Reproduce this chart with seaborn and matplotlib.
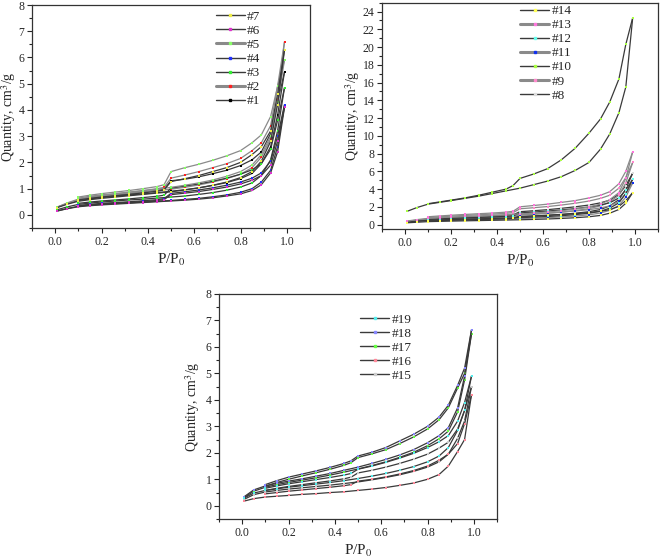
import pandas as pd
import seaborn as sns
import matplotlib.pyplot as plt
from matplotlib.lines import Line2D
from matplotlib.ticker import MultipleLocator

# relative pressure points, adsorption (up) and desorption (down) branches
p_ads = [0.01, 0.05, 0.1, 0.15, 0.2, 0.26, 0.32, 0.38, 0.44, 0.5,
         0.56, 0.62, 0.68, 0.74, 0.8, 0.85, 0.89, 0.93, 0.96, 0.99]
p_des = [0.99, 0.96, 0.93, 0.89, 0.85, 0.8, 0.74, 0.68, 0.62, 0.56,
         0.5, 0.47, 0.44, 0.38, 0.32, 0.26, 0.2, 0.15, 0.1]

# quantity adsorbed, cm3/g
ads = {
    '#1': [0.3, 0.42, 0.55, 0.61, 0.66, 0.71, 0.76, 0.8, 0.85, 0.9, 0.96, 1.03, 1.12, 1.23, 1.38, 1.58, 1.95, 2.6, 3.8, 5.45],
    '#2': [0.3, 0.43, 0.58, 0.65, 0.71, 0.77, 0.82, 0.87, 0.92, 0.98, 1.05, 1.14, 1.25, 1.38, 1.55, 1.8, 2.2, 2.9, 4.4, 6.6],
    '#3': [0.2, 0.3, 0.4, 0.45, 0.49, 0.53, 0.57, 0.6, 0.64, 0.68, 0.72, 0.78, 0.85, 0.94, 1.06, 1.22, 1.5, 2.1, 3.2, 4.85],
    '#4': [0.15, 0.24, 0.33, 0.37, 0.4, 0.43, 0.46, 0.49, 0.52, 0.55, 0.59, 0.63, 0.69, 0.76, 0.86, 1.0, 1.25, 1.7, 2.6, 4.2],
    '#5': [0.3, 0.45, 0.6, 0.68, 0.74, 0.8, 0.86, 0.92, 0.98, 1.05, 1.13, 1.22, 1.33, 1.47, 1.65, 1.9, 2.3, 3.0, 4.3, 5.9],
    '#6': [0.15, 0.23, 0.31, 0.35, 0.38, 0.41, 0.44, 0.47, 0.5, 0.53, 0.56, 0.6, 0.65, 0.72, 0.8, 0.93, 1.15, 1.6, 2.4, 4.1],
    '#7': [0.28, 0.4, 0.52, 0.58, 0.63, 0.68, 0.73, 0.78, 0.83, 0.88, 0.95, 1.03, 1.13, 1.25, 1.42, 1.65, 2.05, 2.8, 4.2, 6.3],
    '#8': [0.3, 0.42, 0.54, 0.6, 0.65, 0.7, 0.75, 0.8, 0.85, 0.9, 0.97, 1.05, 1.15, 1.28, 1.45, 1.7, 2.1, 2.8, 4.0, 5.8],
    '#9': [0.35, 0.5, 0.62, 0.7, 0.76, 0.82, 0.88, 0.94, 1.0, 1.07, 1.16, 1.27, 1.4, 1.57, 1.8, 2.1, 2.55, 3.3, 4.7, 7.0],
    '#10': [1.5, 1.9, 2.3, 2.5, 2.7, 2.95, 3.2, 3.5, 3.8, 4.1, 4.5, 4.9, 5.4, 6.1, 7.0, 8.5, 10.2, 12.6, 15.5, 23.3],
    '#11': [0.25, 0.33, 0.42, 0.46, 0.5, 0.53, 0.56, 0.6, 0.63, 0.67, 0.72, 0.78, 0.86, 0.96, 1.1, 1.3, 1.6, 2.15, 3.1, 4.7],
    '#12': [0.28, 0.38, 0.48, 0.53, 0.57, 0.61, 0.65, 0.69, 0.73, 0.78, 0.84, 0.91, 1.0, 1.12, 1.28, 1.5, 1.85, 2.45, 3.5, 5.1],
    '#13': [0.4, 0.55, 0.7, 0.78, 0.85, 0.92, 0.98, 1.05, 1.12, 1.2, 1.3, 1.42, 1.56, 1.74, 1.98, 2.3, 2.8, 3.6, 5.2, 8.2],
    '#14': [0.2, 0.26, 0.33, 0.36, 0.39, 0.42, 0.45, 0.48, 0.51, 0.54, 0.58, 0.63, 0.69, 0.77, 0.88, 1.03, 1.28, 1.7, 2.4, 3.6],
    '#15': [0.25, 0.42, 0.52, 0.58, 0.63, 0.68, 0.73, 0.78, 0.84, 0.9, 0.98, 1.07, 1.17, 1.3, 1.46, 1.66, 1.95, 2.55, 3.2, 4.5],
    '#16': [0.18, 0.27, 0.33, 0.36, 0.39, 0.43, 0.46, 0.5, 0.53, 0.58, 0.63, 0.69, 0.77, 0.86, 1.0, 1.18, 1.5, 2.05, 2.5, 4.2],
    '#17': [0.32, 0.55, 0.7, 0.8, 0.88, 0.97, 1.06, 1.16, 1.27, 1.39, 1.52, 1.66, 1.83, 2.02, 2.27, 2.53, 2.82, 3.55, 4.75, 6.5],
    '#18': [0.35, 0.6, 0.75, 0.85, 0.93, 1.02, 1.12, 1.22, 1.34, 1.46, 1.6, 1.75, 1.92, 2.12, 2.38, 2.65, 2.95, 3.7, 4.9, 6.65],
    '#19': [0.3, 0.48, 0.58, 0.64, 0.7, 0.76, 0.82, 0.88, 0.95, 1.03, 1.12, 1.22, 1.34, 1.48, 1.66, 1.88, 2.2, 2.85, 3.6, 4.9],
}
des = {
    '#1': [5.45, 4.3, 3.1, 2.4, 2.1, 1.88, 1.7, 1.57, 1.45, 1.36, 1.3, 0.98, 0.93, 0.87, 0.81, 0.76, 0.7, 0.65, 0.59],
    '#2': [6.6, 4.9, 3.4, 2.75, 2.45, 2.15, 1.95, 1.8, 1.65, 1.52, 1.4, 1.05, 1.0, 0.93, 0.87, 0.81, 0.76, 0.71, 0.64],
    '#3': [4.85, 3.6, 2.5, 1.95, 1.72, 1.55, 1.4, 1.28, 1.18, 1.1, 1.02, 0.75, 0.71, 0.66, 0.61, 0.57, 0.53, 0.49, 0.44],
    '#4': [4.2, 3.0, 2.05, 1.6, 1.4, 1.25, 1.13, 1.03, 0.95, 0.88, 0.82, 0.62, 0.58, 0.54, 0.5, 0.47, 0.44, 0.4, 0.36],
    '#5': [5.9, 4.9, 3.75, 3.05, 2.75, 2.45, 2.25, 2.08, 1.93, 1.8, 1.65, 1.15, 1.08, 1.0, 0.93, 0.87, 0.81, 0.75, 0.68],
    '#6': [4.1, 2.8, 1.9, 1.5, 1.32, 1.18, 1.06, 0.97, 0.89, 0.83, 0.77, 0.58, 0.55, 0.51, 0.48, 0.45, 0.42, 0.38, 0.34],
    '#7': [6.3, 4.6, 3.2, 2.6, 2.3, 2.0, 1.8, 1.65, 1.5, 1.38, 1.27, 0.95, 0.9, 0.84, 0.78, 0.73, 0.68, 0.63, 0.57],
    '#8': [5.8, 4.4, 3.4, 2.75, 2.45, 2.2, 2.0, 1.83, 1.68, 1.56, 1.45, 1.1, 1.03, 0.96, 0.9, 0.84, 0.78, 0.72, 0.65],
    '#9': [7.0, 5.3, 4.1, 3.3, 2.95, 2.65, 2.4, 2.2, 2.03, 1.9, 1.78, 1.35, 1.27, 1.18, 1.1, 1.03, 0.95, 0.87, 0.79],
    '#10': [23.3, 20.3, 16.4, 13.8, 11.9, 10.3, 8.6, 7.3, 6.3, 5.7, 5.2, 4.4, 4.0, 3.65, 3.3, 3.0, 2.75, 2.55, 2.35],
    '#11': [4.7, 3.5, 2.6, 2.1, 1.87, 1.68, 1.53, 1.4, 1.29, 1.2, 1.12, 0.85, 0.8, 0.75, 0.7, 0.65, 0.6, 0.55, 0.5],
    '#12': [5.1, 3.9, 3.0, 2.45, 2.2, 1.98, 1.8, 1.65, 1.52, 1.41, 1.31, 0.98, 0.92, 0.86, 0.8, 0.75, 0.7, 0.64, 0.58],
    '#13': [8.2, 6.0, 4.6, 3.7, 3.3, 3.0, 2.7, 2.5, 2.3, 2.15, 2.0, 1.5, 1.4, 1.3, 1.22, 1.14, 1.05, 0.97, 0.88],
    '#14': [3.6, 2.7, 2.05, 1.68, 1.5, 1.35, 1.23, 1.13, 1.04, 0.97, 0.9, 0.69, 0.65, 0.61, 0.57, 0.53, 0.49, 0.45, 0.41],
    '#15': [4.5, 3.6, 2.9, 2.4, 2.18, 1.95, 1.76, 1.6, 1.46, 1.34, 1.24, 1.08, 1.02, 0.94, 0.87, 0.8, 0.73, 0.66, 0.58],
    '#16': [4.2, 3.1, 2.35, 1.95, 1.72, 1.5, 1.33, 1.2, 1.09, 1.0, 0.93, 0.8, 0.76, 0.7, 0.65, 0.6, 0.55, 0.5, 0.45],
    '#17': [6.5, 5.0, 4.45, 3.7, 3.25, 2.9, 2.6, 2.35, 2.12, 1.96, 1.82, 1.63, 1.53, 1.38, 1.25, 1.13, 1.0, 0.88, 0.74],
    '#18': [6.65, 5.2, 4.55, 3.8, 3.35, 3.0, 2.7, 2.45, 2.2, 2.02, 1.88, 1.7, 1.6, 1.45, 1.32, 1.2, 1.08, 0.95, 0.8],
    '#19': [4.9, 3.9, 3.2, 2.65, 2.42, 2.2, 1.98, 1.8, 1.64, 1.5, 1.38, 1.22, 1.16, 1.07, 0.99, 0.91, 0.83, 0.75, 0.66],
}

# marker colours of each sample
marker_col = {
    '#1': 'black', '#2': '#ff2020', '#3': '#33ee33', '#4': '#2030ff', '#5': '#88ff66',
    '#6': '#dd33cc', '#7': '#eeee44', '#8': '#dddddd', '#9': '#ff88cc', '#10': '#aaff44',
    '#11': '#1030ee', '#12': '#66ffee', '#13': '#ff77dd', '#14': '#ffff55', '#15': '#cccccc',
    '#16': '#ff8899', '#17': '#66ff44', '#18': '#8888ff', '#19': '#55eeee',
}
# some legend lines are drawn in a lighter, thicker grey
light_lines = ['#2', '#5', '#9', '#11', '#13']

# samples, y top, y major step, axes box in pixels, legend anchor, ylabel x
panels = [
    (['#1', '#2', '#3', '#4', '#5', '#6', '#7'], 8, 1, [32, 5, 310, 228], (0.627, 1.016), -0.05),
    (['#8', '#9', '#10', '#11', '#12', '#13', '#14'], 25, 2, [382, 2.7, 658, 229], (0.467, 1.031), -0.072),
    (['#15', '#16', '#17', '#18', '#19'], 8, 1, [219, 294, 497, 519], (0.475, 0.955), -0.062),
]

rows = []
for s in ads:
    for p, q in zip(p_ads, ads[s]):
        rows.append((s, 'ads', p, q))
    for p, q in zip(p_des, des[s]):
        rows.append((s, 'des', p, q))
df = pd.DataFrame(rows, columns=['sample', 'branch', 'P', 'Q'])

sns.set_style('ticks')
plt.rcParams['font.family'] = ['Liberation Serif', 'DejaVu Serif']
plt.rcParams['mathtext.fontset'] = 'stix'

W, H = 661, 559
fig = plt.figure(figsize=(W / 100, H / 100), dpi=100)

for samples, ytop, ystep, box, anchor, ylx in panels:
    x0, y0, x1, y1 = box
    ax = fig.add_axes([x0 / W, 1 - y1 / H, (x1 - x0) / W, (y1 - y0) / H])
    for s in samples:
        lc = '#8a8a8a' if s in light_lines else '#3a3a3a'
        for br in ['ads', 'des']:
            d = df[(df['sample'] == s) & (df['branch'] == br)]
            sns.lineplot(data=d, x='P', y='Q', sort=False, ax=ax, color=lc, lw=0.9,
                         marker='s', markersize=1.6, markerfacecolor=marker_col[s],
                         markeredgecolor=marker_col[s], markeredgewidth=0)
    ax.set_xlim(-0.1, 1.1)
    ax.set_ylim(-0.5, ytop)
    ax.xaxis.set_major_locator(MultipleLocator(0.2))
    ax.xaxis.set_minor_locator(MultipleLocator(0.1))
    ax.yaxis.set_major_locator(MultipleLocator(ystep))
    ax.yaxis.set_minor_locator(MultipleLocator(ystep / 2))
    ax.tick_params(which='major', length=3.5, width=0.8, labelsize=8.5, pad=2)
    ax.tick_params(which='minor', length=2, width=0.8)
    for sp in ax.spines.values():
        sp.set_linewidth(0.9)
        sp.set_color('#333333')
    ax.set_xlabel('P/P$_0$', fontsize=11, labelpad=3)
    ax.set_ylabel('Quantity, cm$^3$/g', fontsize=10)
    ax.yaxis.set_label_coords(ylx, 0.5)

    handles = [Line2D([], [], color='#8a8a8a' if s in light_lines else '#3a3a3a',
                      lw=2.2 if s in light_lines else 1.0, marker='s', markersize=1.8,
                      markerfacecolor=marker_col[s], markeredgecolor=marker_col[s])
               for s in samples[::-1]]
    ax.legend(handles, samples[::-1], loc='upper left', bbox_to_anchor=anchor,
              frameon=False, fontsize=9.5, handlelength=2.2, handletextpad=0.2,
              labelspacing=0.14, borderpad=0.2)

plt.savefig('out.png', dpi=100)
